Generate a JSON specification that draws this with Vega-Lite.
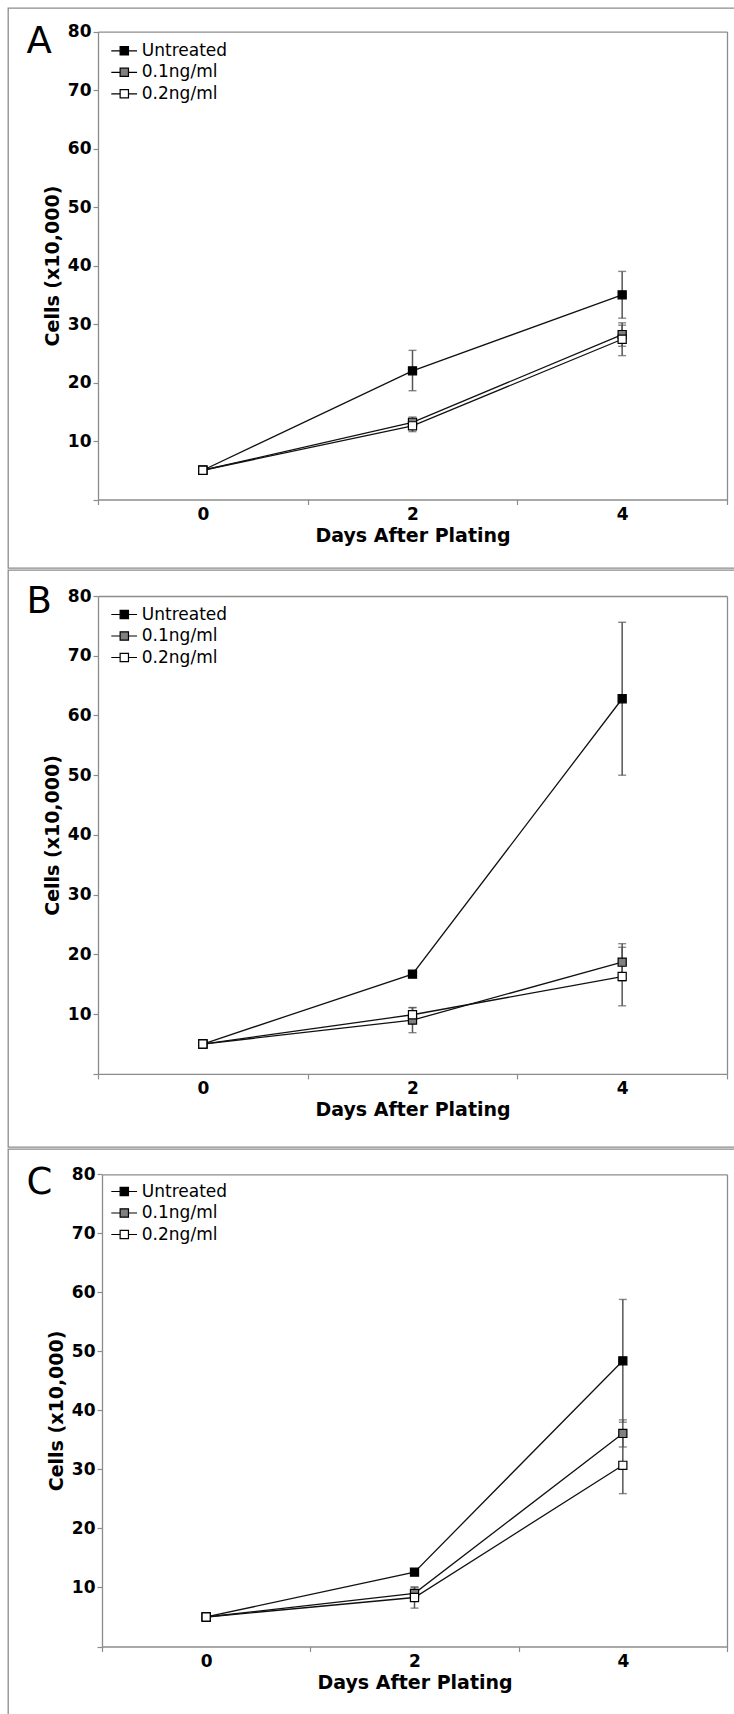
{
  "$schema": "https://vega.github.io/schema/vega-lite/v6.json",
  "background": "white",
  "padding": {"left": 7, "top": 7, "right": 0, "bottom": 0},
  "spacing": 0,
  "datasets": {
    "cells": [
      {"panel": "A", "series": "Untreated", "day": 0, "cells": 5},
      {"panel": "A", "series": "Untreated", "day": 2, "cells": 22, "lo": 18.6, "hi": 25.5},
      {"panel": "A", "series": "Untreated", "day": 4, "cells": 35, "lo": 31, "hi": 39},
      {"panel": "A", "series": "0.1ng/ml", "day": 0, "cells": 5},
      {"panel": "A", "series": "0.1ng/ml", "day": 2, "cells": 13.2, "lo": 12.3, "hi": 14.1},
      {"panel": "A", "series": "0.1ng/ml", "day": 4, "cells": 28.2, "lo": 26.2, "hi": 30.2},
      {"panel": "A", "series": "0.2ng/ml", "day": 0, "cells": 5},
      {"panel": "A", "series": "0.2ng/ml", "day": 2, "cells": 12.6, "lo": 11.6, "hi": 13.6},
      {"panel": "A", "series": "0.2ng/ml", "day": 4, "cells": 27.4, "lo": 24.6, "hi": 29.8},
      {"panel": "B", "series": "Untreated", "day": 0, "cells": 5},
      {"panel": "B", "series": "Untreated", "day": 2, "cells": 16.7},
      {"panel": "B", "series": "Untreated", "day": 4, "cells": 62.8, "lo": 50.0, "hi": 75.6},
      {"panel": "B", "series": "0.1ng/ml", "day": 0, "cells": 5},
      {"panel": "B", "series": "0.1ng/ml", "day": 2, "cells": 9.0, "lo": 6.9, "hi": 11.1},
      {"panel": "B", "series": "0.1ng/ml", "day": 4, "cells": 18.7, "lo": 15.6, "hi": 21.8},
      {"panel": "B", "series": "0.2ng/ml", "day": 0, "cells": 5},
      {"panel": "B", "series": "0.2ng/ml", "day": 2, "cells": 9.9, "lo": 8.7, "hi": 11.1},
      {"panel": "B", "series": "0.2ng/ml", "day": 4, "cells": 16.3, "lo": 11.4, "hi": 21.2},
      {"panel": "C", "series": "Untreated", "day": 0, "cells": 5},
      {"panel": "C", "series": "Untreated", "day": 2, "cells": 12.6},
      {"panel": "C", "series": "Untreated", "day": 4, "cells": 48.4, "lo": 38.0, "hi": 58.8},
      {"panel": "C", "series": "0.1ng/ml", "day": 0, "cells": 5},
      {"panel": "C", "series": "0.1ng/ml", "day": 2, "cells": 9.0, "lo": 8.0, "hi": 10.0},
      {"panel": "C", "series": "0.1ng/ml", "day": 4, "cells": 36.1, "lo": 33.8, "hi": 38.4},
      {"panel": "C", "series": "0.2ng/ml", "day": 0, "cells": 5},
      {"panel": "C", "series": "0.2ng/ml", "day": 2, "cells": 8.3, "lo": 6.5, "hi": 10.1},
      {"panel": "C", "series": "0.2ng/ml", "day": 4, "cells": 30.7, "lo": 25.9, "hi": 35.5}
    ]
  },
  "data": {"name": "cells"},
  "config": {
    "font": "DejaVu Sans",
    "view": {"stroke": "#8c8c8c", "strokeWidth": 1.3},
    "axis": {
      "grid": false,
      "domainColor": "#8c8c8c",
      "domainWidth": 1.3,
      "tickColor": "#8c8c8c",
      "tickWidth": 1.2,
      "tickSize": 5,
      "labelFont": "DejaVu Sans",
      "labelFontSize": 17,
      "labelFontWeight": "bold",
      "labelColor": "black",
      "titleFont": "DejaVu Sans",
      "titleFontSize": 19,
      "titleFontWeight": "bold",
      "titleColor": "black"
    },
    "legend": {
      "orient": "none",
      "title": null,
      "padding": 0,
      "symbolType": "M-1.53,0H-0.49M0.49,0H1.5M-0.49,-0.49H0.49V0.49H-0.49Z",
      "symbolSize": 289,
      "symbolStrokeColor": "black",
      "symbolStrokeWidth": 1.2,
      "symbolOpacity": 1,
      "labelFont": "DejaVu Sans",
      "labelFontSize": 17,
      "labelColor": "black",
      "labelOffset": 8,
      "rowPadding": 3.5
    },
    "title": {
      "anchor": "start",
      "frame": "group",
      "font": "DejaVu Sans",
      "fontSize": 37,
      "fontWeight": "normal",
      "color": "black",
      "offset": 0,
      "baseline": "alphabetic"
    }
  },
  "resolve": {
    "scale": {"x": "independent", "y": "independent", "fill": "independent"},
    "axis": {"x": "independent", "y": "independent"},
    "legend": {"fill": "independent"}
  },
  "vconcat": [
    {
      "width": 728,
      "height": 560,
      "title": {"text": "A", "dx": 18.5, "dy": 57},
      "transform": [{"filter": "datum.panel === 'A'"}],
      "layer": [
        {
          "mark": {"type": "point", "opacity": 0},
          "encoding": {
            "x": {"field": "day", "type": "quantitative", "scale": {"domain": [-1, 5], "range": [90, 719], "nice": false, "zero": false}, "axis": {"orient": "top", "offset": -23.6, "ticks": false, "labels": false, "title": null}},
            "y": {"field": "cells", "type": "quantitative", "scale": {"domain": [0, 80], "range": [491.5, 23.6], "nice": false}, "axis": {"orient": "right", "offset": -9, "ticks": false, "labels": false, "title": null}}
          }
        },
        {
          "mark": {"type": "line", "color": "#111111", "strokeWidth": 1.3},
          "encoding": {
            "x": {"field": "day", "type": "quantitative", "scale": {"domain": [-1, 5], "range": [90, 719], "nice": false, "zero": false},
              "axis": {"orient": "bottom", "offset": -68.5, "values": [-1, 0, 1, 2, 3, 4, 5], "labelExpr": "datum.value % 2 === 0 ? datum.label : ''", "tickOpacity": {"condition": {"test": "datum.value % 2 !== 0", "value": 1}, "value": 0}, "labelPadding": 2, "labelOverlap": false, "labelFlush": false, "title": "Days After Plating", "titlePadding": 4}},
            "y": {"field": "cells", "type": "quantitative", "scale": {"domain": [0, 80], "range": [491.5, 23.6], "nice": false},
              "axis": {"orient": "left", "offset": -90, "values": [0, 10, 20, 30, 40, 50, 60, 70, 80], "labelExpr": "datum.value === 0 ? '' : datum.label", "labelPadding": 2, "title": "Cells (x10,000)", "titlePadding": 5}},
            "detail": {"field": "series"}
          }
        },
        {
          "transform": [{"filter": "isValid(datum.lo)"}],
          "mark": {"type": "rule", "color": "#555555", "strokeWidth": 1.5},
          "encoding": {
            "x": {"field": "day", "type": "quantitative", "axis": null},
            "y": {"field": "lo", "type": "quantitative", "axis": null},
            "y2": {"field": "hi"}
          }
        },
        {
          "transform": [{"filter": "isValid(datum.lo)"}],
          "mark": {"type": "tick", "orient": "horizontal", "size": 8, "thickness": 1.4, "color": "#555555"},
          "encoding": {
            "x": {"field": "day", "type": "quantitative", "axis": null},
            "y": {"field": "lo", "type": "quantitative", "axis": null}
          }
        },
        {
          "transform": [{"filter": "isValid(datum.hi)"}],
          "mark": {"type": "tick", "orient": "horizontal", "size": 8, "thickness": 1.4, "color": "#555555"},
          "encoding": {
            "x": {"field": "day", "type": "quantitative", "axis": null},
            "y": {"field": "hi", "type": "quantitative", "axis": null}
          }
        },
        {
          "mark": {"type": "square", "size": 66, "stroke": "black", "strokeWidth": 1.2, "opacity": 1},
          "encoding": {
            "x": {"field": "day", "type": "quantitative", "axis": null},
            "y": {"field": "cells", "type": "quantitative", "axis": null},
            "fill": {"field": "series", "type": "nominal", "scale": {"domain": ["Untreated", "0.1ng/ml", "0.2ng/ml"], "range": ["#000000", "#808080", "#ffffff"]}, "legend": {"legendX": 106.8, "legendY": 33.3}}
          }
        }
      ],
      "resolve": {"axis": {"x": "independent", "y": "independent"}}
    },
    {
      "width": 728,
      "height": 577,
      "title": {"text": "B", "dx": 18.5, "dy": 55},
      "transform": [{"filter": "datum.panel === 'B'"}],
      "layer": [
        {
          "mark": {"type": "point", "opacity": 0},
          "encoding": {
            "x": {"field": "day", "type": "quantitative", "scale": {"domain": [-1, 5], "range": [90, 719], "nice": false, "zero": false}, "axis": {"orient": "top", "offset": -26, "ticks": false, "labels": false, "title": null}},
            "y": {"field": "cells", "type": "quantitative", "scale": {"domain": [0, 80], "range": [503.9, 26], "nice": false}, "axis": {"orient": "right", "offset": -9, "ticks": false, "labels": false, "title": null}}
          }
        },
        {
          "mark": {"type": "line", "color": "#111111", "strokeWidth": 1.3},
          "encoding": {
            "x": {"field": "day", "type": "quantitative", "scale": {"domain": [-1, 5], "range": [90, 719], "nice": false, "zero": false},
              "axis": {"orient": "bottom", "offset": -73.1, "values": [-1, 0, 1, 2, 3, 4, 5], "labelExpr": "datum.value % 2 === 0 ? datum.label : ''", "tickOpacity": {"condition": {"test": "datum.value % 2 !== 0", "value": 1}, "value": 0}, "labelPadding": 2, "labelOverlap": false, "labelFlush": false, "title": "Days After Plating", "titlePadding": 4}},
            "y": {"field": "cells", "type": "quantitative", "scale": {"domain": [0, 80], "range": [503.9, 26], "nice": false},
              "axis": {"orient": "left", "offset": -90, "values": [0, 10, 20, 30, 40, 50, 60, 70, 80], "labelExpr": "datum.value === 0 ? '' : datum.label", "labelPadding": 2, "title": "Cells (x10,000)", "titlePadding": 5}},
            "detail": {"field": "series"}
          }
        },
        {
          "transform": [{"filter": "isValid(datum.lo)"}],
          "mark": {"type": "rule", "color": "#555555", "strokeWidth": 1.5},
          "encoding": {
            "x": {"field": "day", "type": "quantitative", "axis": null},
            "y": {"field": "lo", "type": "quantitative", "axis": null},
            "y2": {"field": "hi"}
          }
        },
        {
          "transform": [{"filter": "isValid(datum.lo)"}],
          "mark": {"type": "tick", "orient": "horizontal", "size": 8, "thickness": 1.4, "color": "#555555"},
          "encoding": {
            "x": {"field": "day", "type": "quantitative", "axis": null},
            "y": {"field": "lo", "type": "quantitative", "axis": null}
          }
        },
        {
          "transform": [{"filter": "isValid(datum.hi)"}],
          "mark": {"type": "tick", "orient": "horizontal", "size": 8, "thickness": 1.4, "color": "#555555"},
          "encoding": {
            "x": {"field": "day", "type": "quantitative", "axis": null},
            "y": {"field": "hi", "type": "quantitative", "axis": null}
          }
        },
        {
          "mark": {"type": "square", "size": 66, "stroke": "black", "strokeWidth": 1.2, "opacity": 1},
          "encoding": {
            "x": {"field": "day", "type": "quantitative", "axis": null},
            "y": {"field": "cells", "type": "quantitative", "axis": null},
            "fill": {"field": "series", "type": "nominal", "scale": {"domain": ["Untreated", "0.1ng/ml", "0.2ng/ml"], "range": ["#000000", "#808080", "#ffffff"]}, "legend": {"legendX": 106.8, "legendY": 35}}
          }
        }
      ],
      "resolve": {"axis": {"x": "independent", "y": "independent"}}
    },
    {
      "width": 728,
      "height": 571,
      "title": {"text": "C", "dx": 18.5, "dy": 57},
      "transform": [{"filter": "datum.panel === 'C'"}],
      "layer": [
        {
          "mark": {"type": "point", "opacity": 0},
          "encoding": {
            "x": {"field": "day", "type": "quantitative", "scale": {"domain": [-1, 5], "range": [94, 719], "nice": false, "zero": false}, "axis": {"orient": "top", "offset": -25.3, "ticks": false, "labels": false, "title": null}},
            "y": {"field": "cells", "type": "quantitative", "scale": {"domain": [0, 80], "range": [497.5, 25.3], "nice": false}, "axis": {"orient": "right", "offset": -9, "ticks": false, "labels": false, "title": null}}
          }
        },
        {
          "mark": {"type": "line", "color": "#111111", "strokeWidth": 1.3},
          "encoding": {
            "x": {"field": "day", "type": "quantitative", "scale": {"domain": [-1, 5], "range": [94, 719], "nice": false, "zero": false},
              "axis": {"orient": "bottom", "offset": -73.5, "values": [-1, 0, 1, 2, 3, 4, 5], "labelExpr": "datum.value % 2 === 0 ? datum.label : ''", "tickOpacity": {"condition": {"test": "datum.value % 2 !== 0", "value": 1}, "value": 0}, "labelPadding": 2, "labelOverlap": false, "labelFlush": false, "title": "Days After Plating", "titlePadding": 4}},
            "y": {"field": "cells", "type": "quantitative", "scale": {"domain": [0, 80], "range": [497.5, 25.3], "nice": false},
              "axis": {"orient": "left", "offset": -94, "values": [0, 10, 20, 30, 40, 50, 60, 70, 80], "labelExpr": "datum.value === 0 ? '' : datum.label", "labelPadding": 2, "title": "Cells (x10,000)", "titlePadding": 5}},
            "detail": {"field": "series"}
          }
        },
        {
          "transform": [{"filter": "isValid(datum.lo)"}],
          "mark": {"type": "rule", "color": "#555555", "strokeWidth": 1.5},
          "encoding": {
            "x": {"field": "day", "type": "quantitative", "axis": null},
            "y": {"field": "lo", "type": "quantitative", "axis": null},
            "y2": {"field": "hi"}
          }
        },
        {
          "transform": [{"filter": "isValid(datum.lo)"}],
          "mark": {"type": "tick", "orient": "horizontal", "size": 8, "thickness": 1.4, "color": "#555555"},
          "encoding": {
            "x": {"field": "day", "type": "quantitative", "axis": null},
            "y": {"field": "lo", "type": "quantitative", "axis": null}
          }
        },
        {
          "transform": [{"filter": "isValid(datum.hi)"}],
          "mark": {"type": "tick", "orient": "horizontal", "size": 8, "thickness": 1.4, "color": "#555555"},
          "encoding": {
            "x": {"field": "day", "type": "quantitative", "axis": null},
            "y": {"field": "hi", "type": "quantitative", "axis": null}
          }
        },
        {
          "mark": {"type": "square", "size": 66, "stroke": "black", "strokeWidth": 1.2, "opacity": 1},
          "encoding": {
            "x": {"field": "day", "type": "quantitative", "axis": null},
            "y": {"field": "cells", "type": "quantitative", "axis": null},
            "fill": {"field": "series", "type": "nominal", "scale": {"domain": ["Untreated", "0.1ng/ml", "0.2ng/ml"], "range": ["#000000", "#808080", "#ffffff"]}, "legend": {"legendX": 106.8, "legendY": 33}}
          }
        }
      ],
      "resolve": {"axis": {"x": "independent", "y": "independent"}}
    }
  ]
}
